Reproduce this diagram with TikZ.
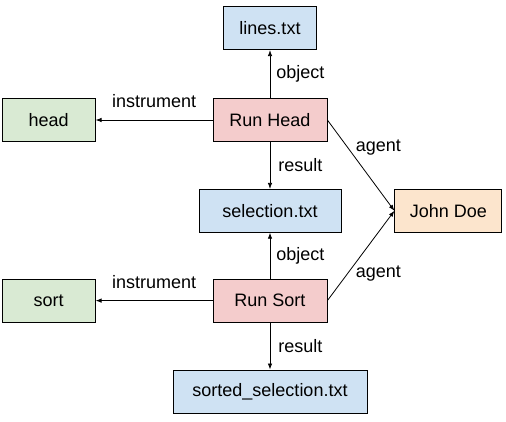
\documentclass[tikz,border=0pt]{standalone}
\usepackage{fontspec}
\setmainfont{Liberation Sans}
\usepackage{tikz}
\usetikzlibrary{shapes,arrows.meta,positioning}
\usepackage{xcolor}

\definecolor{fileblue}{HTML}{CFE2F3}
\definecolor{toolgreen}{HTML}{D9EAD3}
\definecolor{actpink}{HTML}{F4CCCC}
\definecolor{personorange}{HTML}{FCE5CD}

\begin{document}
\begin{tikzpicture}[
        every node/.style={font=\fontsize{18}{22}\selectfont},
        box/.style={draw, rectangle, line width=0.8pt, inner xsep=15pt, minimum width=93pt, minimum height=43pt, align=center},
        file/.style={box, fill=fileblue},
        tool/.style={box, fill=toolgreen},
        act/.style={box, fill=actpink, minimum width=114pt},
        person/.style={box, fill=personorange},
        arrow/.style={-{Latex[length=6pt,width=4.5pt]}, line width=0.8pt},
        lbl/.style={inner sep=3pt}
    ]
        \useasboundingbox (-270pt,120pt) rectangle (236pt,-301pt);

        % First activity and what it links to
        \node[act] (runhead) at (0,0) {Run Head};
        \node[file, above=48pt of runhead] (lines) {lines.txt};
        \node[tool, left=117pt of runhead] (head) {head};
        \node[file, below=47pt of runhead, minimum width=142pt] (selection) {selection.txt};
        \node[person, right=53pt of selection] (john) {John Doe};

        % Second activity
        \node[act, below=46pt of selection] (runsort) {Run Sort};
        \node[tool, left=117pt of runsort] (sort) {sort};
        \node[file, below=47pt of runsort, minimum width=194pt] (sorted) {sorted\_selection.txt};

        % Arrows
        \draw[arrow] (runhead) -- node[lbl, right=3pt] {object} (lines);
        \draw[arrow] (runhead) -- node[lbl, above=9pt] {instrument} (head);
        \draw[arrow] (runhead) -- node[lbl, right=5pt] {result} (selection);
        \draw[arrow] (runhead.east) -- node[lbl, pos=0.3, right=5pt] {agent} (john.west);
        \draw[arrow] (runsort) -- node[lbl, right=3pt] {object} (selection);
        \draw[arrow] (runsort) -- node[lbl, above=9pt] {instrument} (sort);
        \draw[arrow] (runsort) -- node[lbl, right=5pt] {result} (sorted);
        \draw[arrow] (runsort.east) -- node[lbl, pos=0.3, right=5pt] {agent} (john.west);
    \end{tikzpicture}
\end{document}
